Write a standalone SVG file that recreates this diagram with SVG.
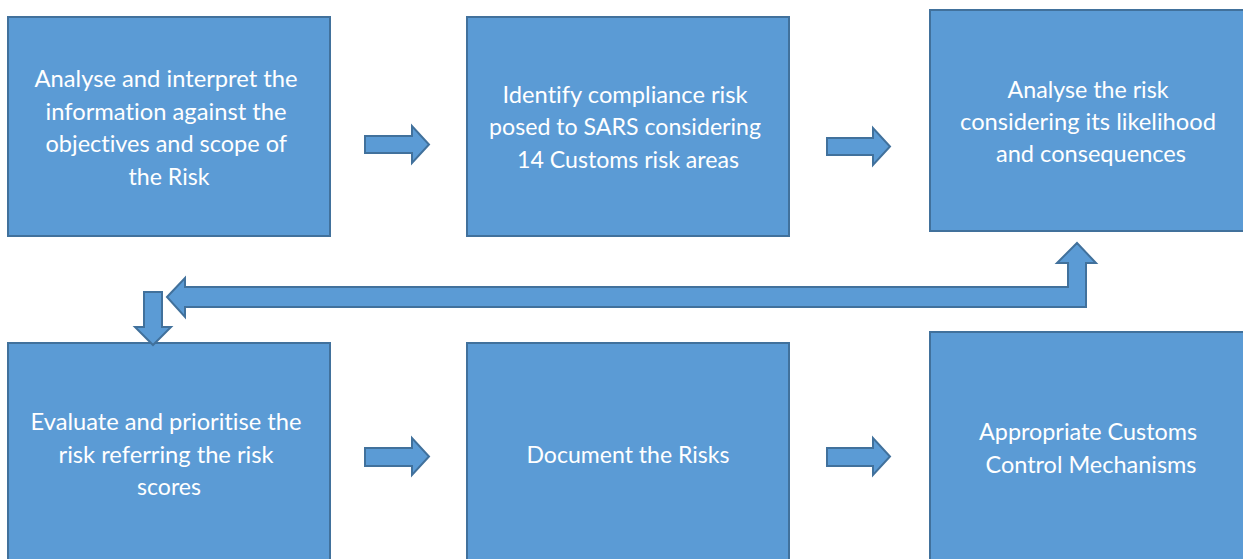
<svg xmlns="http://www.w3.org/2000/svg" width="1243" height="559" viewBox="0 0 1243 559">
  <style>
    .box { fill: #5B9BD5; stroke: #41719C; stroke-width: 2; }
    .arrow { fill: #5B9BD5; stroke: #41719C; stroke-width: 2; stroke-linejoin: miter; }
    .label { fill: #FFFFFF; font-family: Lato, "Open Sans", "Liberation Sans", sans-serif; font-size: 23px; text-anchor: middle; font-variant-ligatures: none; }
  </style>
  <rect width="1243" height="559" fill="#FFFFFF"/>

  <!-- Process steps -->
  <g id="step-analyse-interpret">
    <rect class="box" x="8" y="17" width="322" height="219"/>
    <text class="label">
      <tspan x="169" y="87" textLength="263" lengthAdjust="spacingAndGlyphs">Analyse and interpret the</tspan>
      <tspan x="169" y="119.5" textLength="241" lengthAdjust="spacingAndGlyphs">information against the</tspan>
      <tspan x="169" y="152" textLength="241" lengthAdjust="spacingAndGlyphs">objectives and scope of</tspan>
      <tspan x="169" y="184.5" textLength="81" lengthAdjust="spacingAndGlyphs">the Risk</tspan>
    </text>
  </g>

  <g id="step-identify">
    <rect class="box" x="467" y="17" width="322" height="219"/>
    <text class="label">
      <tspan x="628" y="102.5" textLength="245" lengthAdjust="spacingAndGlyphs">Identify compliance risk</tspan>
      <tspan x="628" y="135" textLength="272" lengthAdjust="spacingAndGlyphs">posed to SARS considering</tspan>
      <tspan x="628" y="167.5" textLength="222" lengthAdjust="spacingAndGlyphs">14 Customs risk areas</tspan>
    </text>
  </g>

  <g id="step-analyse-risk">
    <rect class="box" x="930" y="10" width="322" height="221"/>
    <text class="label">
      <tspan x="1091" y="97.5" textLength="161" lengthAdjust="spacingAndGlyphs">Analyse the risk</tspan>
      <tspan x="1091" y="129.5" textLength="256" lengthAdjust="spacingAndGlyphs">considering its likelihood</tspan>
      <tspan x="1091" y="162" textLength="190" lengthAdjust="spacingAndGlyphs">and consequences</tspan>
    </text>
  </g>

  <g id="step-evaluate">
    <rect class="box" x="8" y="343" width="322" height="230"/>
    <text class="label">
      <tspan x="169" y="430" textLength="271" lengthAdjust="spacingAndGlyphs">Evaluate and prioritise the</tspan>
      <tspan x="169" y="462.5" textLength="215" lengthAdjust="spacingAndGlyphs">risk referring the risk</tspan>
      <tspan x="169" y="495" textLength="64" lengthAdjust="spacingAndGlyphs">scores</tspan>
    </text>
  </g>

  <g id="step-document">
    <rect class="box" x="467" y="343" width="322" height="230"/>
    <text class="label">
      <tspan x="628" y="463" textLength="203" lengthAdjust="spacingAndGlyphs">Document the Risks</tspan>
    </text>
  </g>

  <g id="step-controls">
    <rect class="box" x="930" y="332" width="322" height="240"/>
    <text class="label">
      <tspan x="1091" y="440" textLength="218" lengthAdjust="spacingAndGlyphs">Appropriate Customs</tspan>
      <tspan x="1091" y="472.5" textLength="211" lengthAdjust="spacingAndGlyphs">Control Mechanisms</tspan>
    </text>
  </g>

  <!-- Block arrows between steps -->
  <g id="connectors">
    <path class="arrow" d="M365,136 L412,136 L412,126 L429,144.5 L412,163 L412,153 L365,153 Z"/>
    <path class="arrow" d="M827,138 L873,138 L873,128 L890,146.5 L873,165 L873,155 L827,155 Z"/>
    <path class="arrow" d="M167,297 L185,278 L185,287 L1068,287 L1068,263 L1057,263 L1077,243 L1096,263 L1086,263 L1086,307 L185,307 L185,317 Z"/>
    <path class="arrow" d="M144,292 L162,292 L162,327 L171,327 L153,345 L135,327 L144,327 Z"/>
    <path class="arrow" d="M365,448 L412,448 L412,438 L429,456.5 L412,475 L412,466 L365,466 Z"/>
    <path class="arrow" d="M827,448 L873,448 L873,438 L890,456.5 L873,475 L873,466 L827,466 Z"/>
  </g>
</svg>
